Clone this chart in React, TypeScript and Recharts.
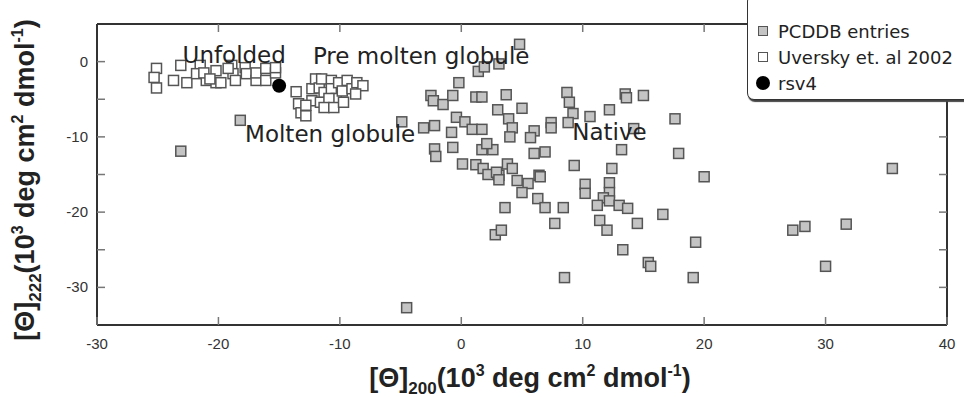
import React from 'react';
import { ScatterChart, Scatter, XAxis, YAxis, ReferenceDot } from 'recharts';

// [Θ]200 vs [Θ]222, both in 10^3 deg cm2 dmol-1
const pcddbPoints: [number, number][] = [
  [-23.1, -11.9], [-18.2, -7.8], [-4.5, -32.7],
  [4.8, 2.3], [1.4, -1.3], [1.9, -0.7], [3.1, -0.3], [-0.2, -2.8], [-2.5, -4.5], [-2.3, -5.2],
  [-1.5, -5.7], [-0.7, -4.5], [1.2, -4.7], [1.7, -4.7], [3.7, -4.4], [3.0, -6.4], [5.0, -6.2],
  [3.9, -7.6], [-4.9, -8.0], [-3.1, -8.8], [-2.2, -8.5], [-0.4, -7.4], [0.3, -8.0], [-0.8, -9.4],
  [0.9, -9.0], [1.7, -9.0], [4.2, -8.8], [4.0, -10.0], [6.0, -9.2], [5.7, -10.1], [7.4, -8.1],
  [7.4, -8.8], [-2.2, -11.6], [-2.1, -12.6], [-0.7, -11.4], [1.7, -11.7], [2.6, -11.7], [2.1, -10.9],
  [6.0, -12.2], [6.9, -12.0], [0.1, -13.6], [1.2, -13.7], [1.8, -14.2], [3.8, -13.6], [2.2, -15.0],
  [3.1, -15.1], [6.4, -15.1], [2.9, -14.7], [3.1, -15.7], [4.2, -14.2], [4.6, -15.8], [5.5, -16.2],
  [5.0, -17.4], [6.5, -15.3], [6.3, -18.2], [6.9, -19.4], [7.7, -21.5], [3.6, -19.4], [2.8, -23.0],
  [3.3, -22.4], [8.7, -4.1], [8.9, -5.4], [9.2, -6.9], [8.8, -8.1], [10.6, -7.3], [12.2, -6.4],
  [13.5, -4.3], [13.6, -4.8], [15.0, -4.5], [17.6, -7.6], [14.2, -8.9], [13.2, -11.7], [17.9, -12.2],
  [9.3, -13.8], [12.4, -14.2], [20.0, -15.3], [10.2, -16.3], [10.2, -17.5], [12.2, -16.1], [12.2, -17.4],
  [11.7, -18.1], [12.2, -18.5], [11.2, -19.1], [13.0, -19.1], [13.7, -19.5], [8.4, -19.4], [11.4, -21.1],
  [12.0, -22.4], [14.5, -21.5], [16.6, -20.3], [13.3, -25.0], [19.3, -24.0], [15.4, -26.7], [15.6, -27.2],
  [8.5, -28.7], [19.1, -28.7], [35.5, -14.2], [27.3, -22.4], [28.3, -21.9], [31.7, -21.6], [30.0, -27.2],
];

const uverskyPoints: [number, number][] = [
  // unfolded
  [-25.1, -0.9], [-25.3, -2.1], [-25.1, -3.5], [-23.7, -2.5], [-22.6, -2.8], [-23.1, -0.5], [-21.5, -0.5],
  [-21.8, -1.6], [-21.0, -2.5], [-21.2, -1.5], [-20.2, -2.8], [-20.2, -1.2], [-19.8, -2.8], [-18.9, -0.5],
  [-18.8, -1.6], [-18.6, -2.5], [-17.8, -0.8], [-17.7, -1.6], [-16.9, -2.5], [-16.9, -1.5], [-16.1, -0.9],
  [-16.1, -2.5], [-15.3, -1.5], [-15.3, -0.8], [-20.7, -2.3], [-19.2, -0.9],
  // pre molten globule
  [-13.6, -4.0], [-13.4, -5.6], [-13.2, -6.8], [-12.8, -7.2], [-12.3, -3.6], [-12.0, -2.3], [-11.7, -3.5],
  [-11.5, -2.3], [-11.3, -4.1], [-10.7, -2.5], [-10.7, -3.6], [-10.3, -4.9], [-10.1, -2.8], [-9.8, -3.9],
  [-9.4, -2.5], [-9.0, -3.6], [-8.6, -2.8], [-8.1, -3.2], [-8.7, -4.3], [-12.3, -5.2], [-11.6, -5.4],
  [-10.9, -4.9], [-12.8, -5.8], [-11.3, -6.1], [-10.5, -6.1], [-9.7, -5.4],
];

const rsv4Points: [number, number][] = [[-15.0, -3.2]];

const xTicks = [-30, -20, -10, 0, 10, 20, 30, 40];
const yTicks = [-30, -25, -20, -15, -10, -5, 0];

const regionLabels = [
  { name: 'Unfolded', x: -18.7, y: 0.9 },
  { name: 'Pre molten globule', x: -3.3, y: 0.8 },
  { name: 'Molten globule', x: -10.8, y: -9.6 },
  { name: 'Native', x: 12.2, y: -9.3 },
];

const toRows = (pts: [number, number][]) => pts.map(([x, y]) => ({ x, y }));

const tickFont = '"Liberation Sans", Arial, sans-serif';
const textFont = '"DejaVu Sans", sans-serif';

const series = [
  { name: 'PCDDB entries', kind: 'square', fill: '#c4c4c4' },
  { name: 'Uversky et. al 2002', kind: 'square', fill: '#ffffff' },
  { name: 'rsv4', kind: 'circle', fill: '#000000' },
];

const squareShape = (fill: string) => (props: any) => {
  const { cx, cy } = props;
  return <rect x={cx - 5} y={cy - 5} width={10} height={10} fill={fill} stroke="#555" strokeWidth={1.5} />;
};

const circleShape = (props: any) => <circle cx={props.cx} cy={props.cy} r={7} fill="#000" />;

const BottomTick = (props: any) => {
  const { x, y, payload } = props;
  return (
    <g>
      <line x1={x} x2={x} y1={y} y2={y - 8} stroke="#777" strokeWidth={1.5} />
      <text x={x} y={y + 24} textAnchor="middle" fontSize={15} fill="#333" fontFamily={tickFont}>
        {payload.value}
      </text>
    </g>
  );
};

const TopTick = (props: any) => {
  const { x, y } = props;
  return <line x1={x} x2={x} y1={y} y2={y + 8} stroke="#777" strokeWidth={1.5} />;
};

const LeftTick = (props: any) => {
  const { x, y, payload } = props;
  return (
    <g>
      <line x1={x} x2={x + 8} y1={y} y2={y} stroke="#777" strokeWidth={1.5} />
      {payload.value % 10 === 0 && (
        <text x={x - 9} y={y + 5} textAnchor="end" fontSize={15} fill="#333" fontFamily={tickFont}>
          {payload.value}
        </text>
      )}
    </g>
  );
};

const RightTick = (props: any) => {
  const { x, y } = props;
  return <line x1={x} x2={x - 8} y1={y} y2={y} stroke="#777" strokeWidth={1.5} />;
};

const XTitle = () => (
  <text x={530} y={387} textAnchor="middle" fontFamily={tickFont} fontWeight="bold" fontSize={27} fill="#222">
    [Θ]<tspan fontSize={17} dy={7}>200</tspan>
    <tspan dy={-7}>(10</tspan>
    <tspan fontSize={16} dy={-11}>3</tspan>
    <tspan dy={11}> deg cm</tspan>
    <tspan fontSize={16} dy={-11}>2</tspan>
    <tspan dy={11}> dmol</tspan>
    <tspan fontSize={16} dy={-11}>-1</tspan>
    <tspan dy={11}>)</tspan>
  </text>
);

const YTitle = () => (
  <text transform="rotate(-90)" x={-180} y={34} textAnchor="middle" fontFamily={tickFont} fontWeight="bold" fontSize={27} fill="#222">
    [Θ]<tspan fontSize={17} dy={7}>222</tspan>
    <tspan dy={-7}>(10</tspan>
    <tspan fontSize={16} dy={-11}>3</tspan>
    <tspan dy={11}> deg cm</tspan>
    <tspan fontSize={16} dy={-11}>2</tspan>
    <tspan dy={11}> dmol</tspan>
    <tspan fontSize={16} dy={-11}>-1</tspan>
    <tspan dy={11}>)</tspan>
  </text>
);

const LegendBox = () => (
  <div
    style={{
      position: 'absolute',
      left: 747,
      top: -6,
      background: '#fff',
      border: '1.5px solid #333',
      borderRadius: 7,
      boxShadow: '1px 2px 1px #444',
      width: 240,
      height: 106,
      boxSizing: 'border-box',
      paddingTop: 23,
      fontFamily: textFont,
      fontSize: 18,
      color: '#222',
    }}
  >
    {series.map((s) => (
      <div key={s.name} style={{ display: 'flex', alignItems: 'center', height: 26 }}>
        <div style={{ width: 30, display: 'flex', justifyContent: 'center' }}>
          {s.kind === 'square' ? (
            <div style={{ width: 8, height: 8, background: s.fill, border: '1.5px solid #555' }} />
          ) : (
            <div style={{ width: 14, height: 14, borderRadius: 7, background: '#000' }} />
          )}
        </div>
        <span>{s.name}</span>
      </div>
    ))}
  </div>
);

export default function App() {
  return (
    <div style={{ position: 'absolute', left: 0, top: 0, width: 964, height: 397, overflow: 'hidden', background: '#fff' }}>
      <ScatterChart width={964} height={397} margin={{ top: 0, right: 0, bottom: 0, left: 0 }}>
        <XAxis
          xAxisId={0}
          type="number"
          dataKey="x"
          domain={[-30, 40]}
          ticks={xTicks}
          height={72}
          tickSize={0}
          tickMargin={0}
          tickLine={false}
          tick={<BottomTick />}
          axisLine={{ stroke: '#333', strokeWidth: 2 }}
          label={<XTitle />}
          allowDataOverflow
        />
        <XAxis
          xAxisId="top"
          orientation="top"
          type="number"
          dataKey="x"
          domain={[-30, 40]}
          ticks={xTicks.slice(1, -1)}
          height={24}
          tickSize={0}
          tickMargin={0}
          tickLine={false}
          tick={<TopTick />}
          axisLine={{ stroke: '#333', strokeWidth: 2 }}
          allowDataOverflow
        />
        <YAxis
          yAxisId={0}
          type="number"
          dataKey="y"
          domain={[-35, 5]}
          ticks={yTicks}
          width={97}
          tickSize={0}
          tickMargin={0}
          tickLine={false}
          tick={<LeftTick />}
          axisLine={{ stroke: '#333', strokeWidth: 2 }}
          label={<YTitle />}
          allowDataOverflow
        />
        <YAxis
          yAxisId="right"
          orientation="right"
          type="number"
          dataKey="y"
          domain={[-35, 5]}
          ticks={yTicks}
          width={17}
          tickSize={0}
          tickMargin={0}
          tickLine={false}
          tick={<RightTick />}
          axisLine={{ stroke: '#333', strokeWidth: 2 }}
          allowDataOverflow
        />
        <Scatter name="PCDDB entries" data={toRows(pcddbPoints)} shape={squareShape('#c4c4c4')} isAnimationActive={false} />
        <Scatter name="Uversky et. al 2002" data={toRows(uverskyPoints)} shape={squareShape('#ffffff')} isAnimationActive={false} />
        <Scatter name="rsv4" data={toRows(rsv4Points)} shape={circleShape} isAnimationActive={false} />
        {regionLabels.map((r) => (
          <ReferenceDot
            key={r.name}
            x={r.x}
            y={r.y}
            r={0}
            fill="none"
            stroke="none"
            label={{ value: r.name, position: 'center', fontSize: 23, fill: '#222', fontFamily: textFont }}
          />
        ))}
      </ScatterChart>
      <LegendBox />
    </div>
  );
}
